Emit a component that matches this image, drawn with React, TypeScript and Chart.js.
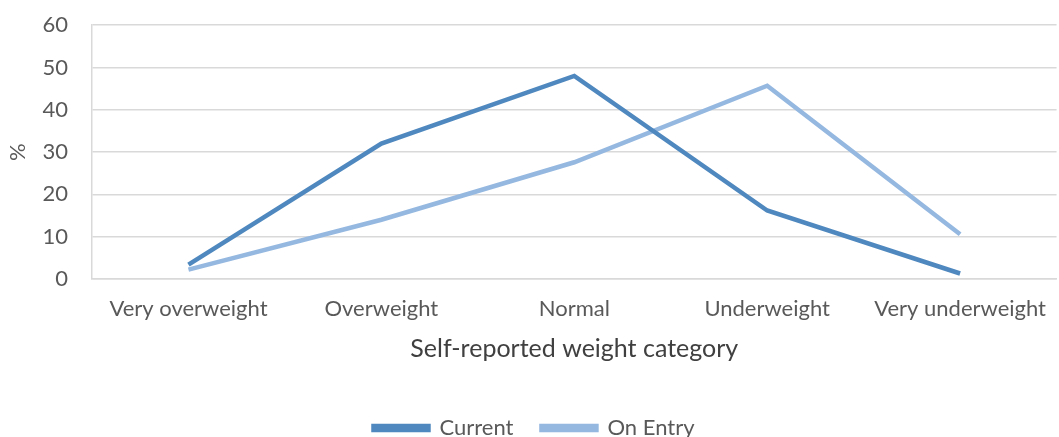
import React, { useEffect, useRef } from "react";
import { Chart, registerables } from "chart.js";

Chart.register(...registerables);

const categories = ["Very overweight", "Overweight", "Normal", "Underweight", "Very underweight"];
const currentValues = [3.4, 32.0, 48.0, 16.2, 1.3];
const onEntryValues = [2.2, 14.0, 27.6, 45.7, 10.6];
const yTicks = [0, 10, 20, 30, 40, 50, 60];

const FONT = "Lato, 'Open Sans', sans-serif";

export default function App() {
  const ref = useRef<HTMLCanvasElement | null>(null);
  useEffect(() => {
    if (!ref.current) return;
    const chart = new Chart(ref.current, {
      type: "line",
      data: {
        labels: categories,
        datasets: [
          {
            label: "Current",
            data: currentValues,
            borderColor: "#4f88be",
            backgroundColor: "#4f88be",
            borderWidth: 4.5,
            pointRadius: 0,
            tension: 0,
          },
          {
            label: "On Entry",
            data: onEntryValues,
            borderColor: "#95b8e0",
            backgroundColor: "#95b8e0",
            borderWidth: 4.5,
            pointRadius: 0,
            tension: 0,
          },
        ],
      },
      options: {
        animation: false,
        responsive: false,
        maintainAspectRatio: false,
        layout: { padding: { left: 5, right: 0, top: -2, bottom: 0 } },
        plugins: {
          tooltip: { enabled: false },
          legend: {
            position: "bottom",
            labels: {
              boxWidth: 55,
              boxHeight: 4,
              padding: 28,
              color: "#595959",
              font: { family: FONT, size: 22 },
            },
          },
        },
        scales: {
          x: {
            offset: true,
            grid: { display: false, drawTicks: false },
            border: { display: true, color: "#d9d9d9", width: 1.5 },
            ticks: { color: "#595959", font: { family: FONT, size: 22 }, padding: 17, maxRotation: 0, autoSkip: false },
            title: {
              display: true,
              text: "Self-reported weight category",
              color: "#404040",
              font: { family: FONT, size: 25 },
              padding: { top: 0, bottom: 25 },
            },
            afterFit: (axis: any) => {
              axis.height = 110;
            },
          },
          y: {
            min: 0,
            max: 60,
            afterBuildTicks: (axis: any) => {
              axis.ticks = yTicks.map((v) => ({ value: v }));
            },
            afterFit: (axis: any) => {
              axis.width = 87;
            },
            grid: { color: "#d9d9d9", lineWidth: 1.5, drawTicks: false },
            border: { display: true, color: "#d9d9d9", width: 1.5 },
            ticks: { color: "#595959", font: { family: FONT, size: 22 }, padding: 24 },
            title: {
              display: true,
              text: "%",
              color: "#595959",
              font: { family: FONT, size: 22 },
              padding: { top: 0, bottom: 0 },
            },
          },
        },
      },
    });
    return () => chart.destroy();
  }, []);
  return (
    <div style={{ position: "fixed", left: 0, top: 0, width: 1059, height: 437, overflow: "hidden", background: "#fff" }}>
      <canvas ref={ref} width={1063} height={461} style={{ display: "block", position: "absolute", left: 0, top: -12 }} />
    </div>
  );
}
